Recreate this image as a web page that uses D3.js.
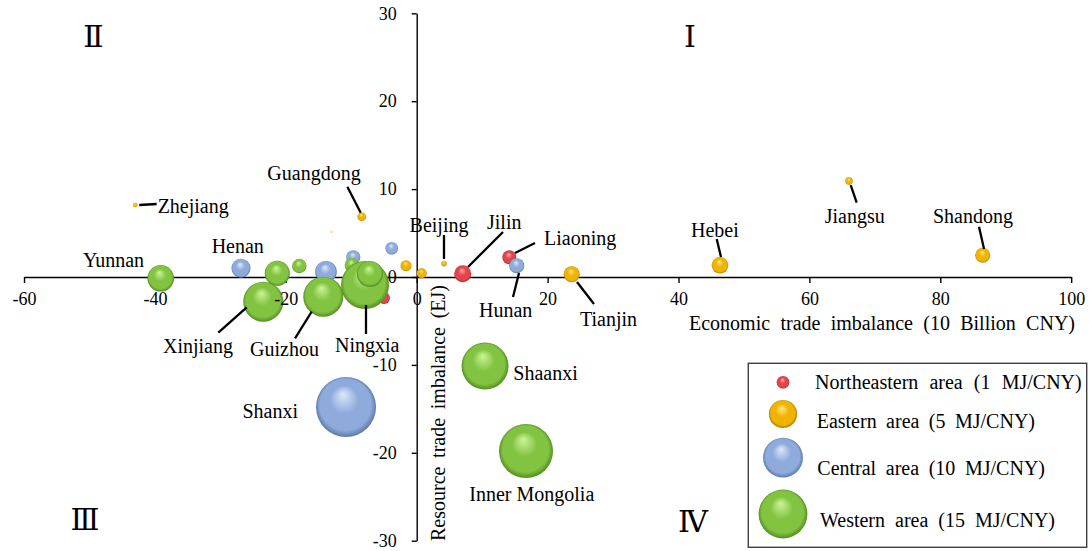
<!DOCTYPE html>
<html><head><meta charset="utf-8">
<script src="https://cdn.jsdelivr.net/npm/d3@7"></script>
<style>
html,body{margin:0;padding:0;background:#fff;}
svg{display:block;}
svg text{font-family:"Liberation Serif","Times New Roman",serif;fill:#000;}
</style></head>
<body>
<svg id="chart" width="1089" height="551"></svg>
<script>
// ---------------- data ----------------
const regionNames = ["Northeastern area (1 MJ/CNY)","Eastern area (5 MJ/CNY)","Central area (10 MJ/CNY)","Western area (15 MJ/CNY)"];
const legendSizes = [1, 5, 10, 15];
const xTicks = [-60,-40,-20,0,20,40,60,80,100];
const yTicks = [-30,-20,-10,0,10,20,30];
const xTitle = "Economic trade imbalance (10 Billion CNY)";
const yTitle = "Resource trade imbalance (EJ)";
const quadrants = ["Ⅰ","Ⅱ","Ⅲ","Ⅳ"];

// one entry per province (label "" = unlabelled bubble)
const labels    = ["", "Jilin", "Liaoning",
                   "Beijing","Tianjin","Hebei","","Jiangsu","Zhejiang","","Shandong","Guangdong","",
                   "Henan","Shanxi","Hunan","","","",
                   "Inner Mongolia","","","Guizhou","Yunnan","Shaanxi","","Xinjiang","Ningxia",""];
const region    = [0,0,0,
                   1,1,1,1,1,1,1,1,1,1,
                   2,2,2,2,2,2,
                   3,3,3,3,3,3,3,3,3,3];
const econ      = [-5.0, 7.03, 14.15,
                   4.17, 23.68, 46.34, -1.63, 66.05, -43.0, 0.76, 86.48, -8.40, -12.99,
                   -26.85, -10.80, 15.28, -13.86, -9.69, -3.82,
                   16.70, -21.30, -9.93, -14.27, -39.11, 10.44, -17.94, -23.44, -7.90, -7.14];
const resource  = [-2.39, 0.38, 2.24,
                   1.51, 0.31, 1.33, 1.29, 10.92, 8.19, 0.42, 2.47, 6.86, 5.15,
                   0.99, -14.79, 1.29, 0.60, 2.24, 3.27,
                   -19.80, 0.42, 1.37, -2.24, -0.15, -10.13, 1.25, -2.81, -0.91, 0.34];
const intensity = [0.9, 1.82, 1.23,
                   0.18, 1.61, 1.74, 0.76, 0.34, 0.13, 0.63, 1.42, 0.47, 0.06,
                   2.27, 22.7, 1.42, 2.94, 1.23, 1.0,
                   18.4, 3.94, 1.23, 10.1, 4.46, 13.9, 1.31, 10.1, 14.5, 4.26];

// ---------------- layout (annotation offsets relative to bubble centre, px) ----------------
const labelLayout = {
  "Zhejiang":      {dx:22.4,  dy:8.3,   anchor:"start", line:[4,0,21.4,-1]},
  "Guangdong":     {dx:-94.4, dy:-36.7, anchor:"start", line:[-14.4,-30,-1,-4]},
  "Beijing":       {dx:-5,    dy:-31.7, anchor:"middle",line:[0,-28.7,0,-4.7]},
  "Jilin":         {dx:24.3,  dy:-44.7, anchor:"start", line:[40.3,-41.7,5.3,-6.7]},
  "Liaoning":      {dx:34.7,  dy:-12.3, anchor:"start", line:[25.7,-14.3,5.7,-4.3]},
  "Hunan":         {dx:-37.7, dy:51.3,  anchor:"start", line:[-3.7,31.3,2.3,7.3]},
  "Tianjin":       {dx:8.3,   dy:51.7,  anchor:"start", line:[5.3,7.7,22.3,29.7]},
  "Hebei":         {dx:-29,   dy:-28.6, anchor:"start", line:[-3.3,-26.3,1,-8.3]},
  "Jiangsu":       {dx:-24.3, dy:42,    anchor:"start", line:[1.7,4,7.7,21.7]},
  "Shandong":      {dx:-49.7, dy:-32.6, anchor:"start", line:[-3.7,-28.6,1.3,-6.3]},
  "Henan":         {dx:-29.3, dy:-15,   anchor:"start"},
  "Shanxi":        {dx:-48,   dy:11,    anchor:"end"},
  "Yunnan":        {dx:-77.7, dy:-11.6, anchor:"start"},
  "Xinjiang":      {dx:-100.3,dy:51.3,  anchor:"start", line:[-16.6,5.6,-45,31]},
  "Guizhou":       {dx:-73.3, dy:59.3,  anchor:"start", line:[-11.6,15,-28.3,41.6]},
  "Ningxia":       {dx:-30,   dy:66.7,  anchor:"start", line:[1,20,1,49]},
  "Shaanxi":       {dx:28.3,  dy:14,    anchor:"start"},
  "Inner Mongolia":{dx:-56.7, dy:49.7,  anchor:"start"}
};
const palette = [
  {light:"#ffb0b0", base:"#e5434b", dark:"#9e1c26"},
  {light:"#ffe98a", base:"#f0b400", dark:"#a87400"},
  {light:"#dfe9fb", base:"#8fabdc", dark:"#52709f"},
  {light:"#cdf598", base:"#82c341", dark:"#4a8419"}
];
const serif = "'Liberation Serif','Times New Roman',serif";
const numeralFont = "'DejaVu Serif','Liberation Serif',serif";

// ---------------- drawing ----------------
const svg = d3.select("#chart");
const x = d3.scaleLinear().domain([-60,100]).range([24, 1071.2]);
const y = d3.scaleLinear().domain([-30,30]).range([540.7, 13.3]);
const r = d3.scaleSqrt().domain([0,15]).range([0,24.4]);
const fmt = d => String(d);   // plain hyphen-minus like the original

const defs = svg.append("defs");
palette.forEach((p,i)=>{
  const g = defs.append("radialGradient").attr("id","g"+i)
    .attr("cx","50%").attr("cy","50%").attr("r","52%").attr("fx","45%").attr("fy","28%");
  g.append("stop").attr("offset","0%").attr("stop-color",p.light);
  g.append("stop").attr("offset","45%").attr("stop-color",p.base);
  g.append("stop").attr("offset","82%").attr("stop-color",p.base);
  g.append("stop").attr("offset","100%").attr("stop-color",p.dark);
});

// axis lines (below bubbles)
const xAxis = d3.axisBottom(x).tickValues(xTicks).tickFormat(fmt).tickSize(6).tickSizeOuter(0).tickPadding(9);
const yAxis = d3.axisLeft(y).tickValues(yTicks).tickFormat(fmt).tickSize(5).tickSizeOuter(0).tickPadding(15);
const gxl = svg.append("g").attr("transform",`translate(0,${y(0)})`).call(xAxis);
gxl.selectAll("text").remove();
const gyl = svg.append("g").attr("transform",`translate(${x(0)},0)`).call(yAxis);
gyl.selectAll("text").remove();
svg.selectAll(".domain, .tick line").attr("stroke","#000").attr("stroke-width",1.4);

// bubbles, drawn region by region
const idx = d3.range(labels.length);
const order = [0,1,2,3].flatMap(g => idx.filter(i => region[i]===g));
svg.append("g").selectAll("circle").data(order).join("circle")
  .attr("cx", i => x(econ[i])).attr("cy", i => y(resource[i]))
  .attr("r", i => r(intensity[i]))
  .attr("fill", i => `url(#g${region[i]})`)
  .attr("opacity", i => intensity[i] < 0.1 ? 0.35 : 1);

// tick labels (above bubbles)
const gxt = svg.append("g").attr("transform",`translate(0,${y(0)})`).call(xAxis);
gxt.selectAll("path,line").remove();
const gyt = svg.append("g").attr("transform",`translate(${x(0)},0)`).call(yAxis);
gyt.selectAll("path,line").remove();
[gxl,gyl,gxt,gyt].forEach(g => g.attr("font-family", serif).attr("font-size", 18));
svg.selectAll(".tick text").style("font-family", serif).style("font-size","18px").attr("fill","#000");

// leader lines and labels
const labelled = idx.filter(i => labels[i] !== "");
const ann = svg.append("g");
labelled.forEach(i=>{
  const L = labelLayout[labels[i]];
  const cx = x(econ[i]), cy = y(resource[i]);
  if (L.line) {
    ann.append("line").attr("x1",cx+L.line[0]).attr("y1",cy+L.line[1])
      .attr("x2",cx+L.line[2]).attr("y2",cy+L.line[3])
      .attr("stroke","#000").attr("stroke-width",2.3);
  }
  ann.append("text").attr("x",cx+L.dx).attr("y",cy+L.dy).attr("text-anchor",L.anchor)
    .style("font-family", serif).style("font-size","20px").text(labels[i]);
});

function fitWords(sel, target){
  sel.each(function(){
    const n = this.getComputedTextLength();
    const s = (this.textContent.match(/ /g)||[]).length;
    if (s && target > n) d3.select(this).style("word-spacing", ((target-n)/s)+"px");
  });
}

// axis titles
svg.append("text").attr("x",689).attr("y",330).style("font-family", serif).style("font-size","20px").text(xTitle)
  .call(fitWords, 386);
svg.append("text").attr("transform","translate(445,541) rotate(-90)").style("font-family", serif).style("font-size","20px").text(yTitle)
  .call(fitWords, 256);

// quadrant numerals
const qpos = [[690,47],[93.5,47],[85,530],[693,532]];
svg.append("g").selectAll("text").data(quadrants).join("text")
  .attr("x",(d,i)=>qpos[i][0]).attr("y",(d,i)=>qpos[i][1])
  .attr("text-anchor","middle")
  .style("font-family", numeralFont).style("font-size","30px")
  .text(d=>d);

// legend
const lg = svg.append("g");
lg.append("rect").attr("x",748.3).attr("y",363.3).attr("width",338.4).attr("height",184)
  .attr("fill","#fff").attr("stroke","#404040").attr("stroke-width",1.4);
const legY = [382.3, 414, 457.7, 514];
const legTextY = [389.3, 428.3, 475, 526.7];
const legTextX = [815, 816.7, 817.3, 820];
const legW = [266.7, 218.3, 227.7, 235];
regionNames.forEach((name,i)=>{
  lg.append("circle").attr("cx",783).attr("cy",legY[i]).attr("r",r(legendSizes[i])).attr("fill",`url(#g${i})`);
  lg.append("text").attr("x",legTextX[i]).attr("y",legTextY[i]).style("font-family", serif).style("font-size","20px").text(name)
    .call(fitWords, legW[i]);
});
</script>
</body></html>
